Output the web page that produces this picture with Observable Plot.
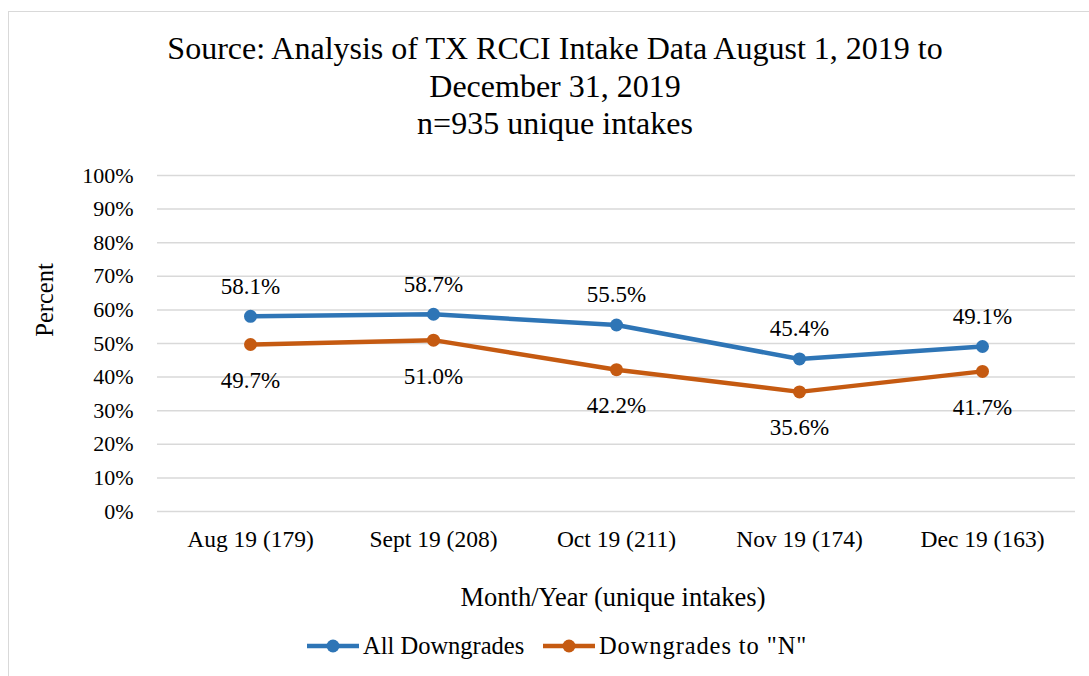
<!DOCTYPE html>
<html>
<head>
<meta charset="utf-8">
<script src="https://cdn.jsdelivr.net/npm/d3@7"></script>
<script src="https://cdn.jsdelivr.net/npm/@observablehq/plot@0.6"></script>
<style>
  html, body { margin: 0; padding: 0; background: #fff; }
  body { width: 1089px; height: 676px; position: relative; overflow: hidden; font-family: "Liberation Serif", "Times New Roman", serif; color: #000; }
  #frame { position: absolute; left: 8px; top: 11px; width: 1200px; height: 800px; border: 1.5px solid #d9d9d9; box-sizing: border-box; }
  #title { position: absolute; left: 0; width: 1110px; top: 30px; text-align: center; font-size: 32px; line-height: 37.5px; }
  #chart { position: absolute; left: 0; top: 150px; }
  #xtitle { position: absolute; left: 0; width: 1226px; top: 582px; text-align: center; font-size: 26.5px; line-height: 30px; }
  #ytitle { position: absolute; left: 45px; top: 300px; font-size: 24.5px; transform: translate(-50%, -50%) rotate(-90deg); white-space: nowrap; }
  #legend { position: absolute; top: 632px; left: 0; width: 1089px; font-size: 24.5px; }
  .item { position: absolute; top: 0; display: flex; align-items: center; white-space: nowrap; }
  .item svg { margin-right: 4px; }
</style>
</head>
<body>
<div id="frame"></div>
<div id="title">Source: Analysis of TX RCCI Intake Data August 1, 2019 to<br>December 31, 2019<br>n=935 unique intakes</div>
<div id="chart"></div>
<div id="xtitle">Month/Year (unique intakes)</div>
<div id="ytitle">Percent</div>
<div id="legend"></div>
<script>
const categories = ["Aug 19 (179)", "Sept 19 (208)", "Oct 19 (211)", "Nov 19 (174)", "Dec 19 (163)"];
const allDowngrades = [58.1, 58.7, 55.5, 45.4, 49.1];
const downgradesToN = [49.7, 51.0, 42.2, 35.6, 41.7];
const yTicks = [0, 10, 20, 30, 40, 50, 60, 70, 80, 90, 100];
const seriesNames = ["All Downgrades", "Downgrades to \"N\""];
const colors = ["#2E75B6", "#C55A11"];

const rowsA = categories.map((c, i) => ({cat: c, v: allDowngrades[i]}));
const rowsN = categories.map((c, i) => ({cat: c, v: downgradesToN[i]}));

const fontFamily = "'Liberation Serif', 'Times New Roman', serif";

const plot = Plot.plot({
  width: 1089,
  height: 461,
  marginTop: 25,
  marginBottom: 100,
  marginLeft: 157,
  marginRight: 14,
  style: { fontFamily, fontSize: "22px", color: "#000", background: "transparent", overflow: "visible" },
  x: { type: "point", domain: categories, padding: 0.5, label: null },
  y: { domain: [0, 100], label: null },
  marks: [
    Plot.gridY(yTicks, { stroke: "#d9d9d9", strokeOpacity: 1, strokeWidth: 1.5 }),
    Plot.axisY(yTicks, { tickSize: 0, tickPadding: 24, tickFormat: d => d + "%", fontSize: 22, label: null }),
    Plot.axisX(categories, { tickSize: 0, tickPadding: 19, fontSize: 23.5, label: null }),
    Plot.line(rowsA, { x: "cat", y: "v", stroke: colors[0], strokeWidth: 4.5 }),
    Plot.line(rowsN, { x: "cat", y: "v", stroke: colors[1], strokeWidth: 4.5 }),
    Plot.dot(rowsA, { x: "cat", y: "v", r: 6.5, fill: colors[0] }),
    Plot.dot(rowsN, { x: "cat", y: "v", r: 6.5, fill: colors[1] }),
    Plot.text(rowsA, { x: "cat", y: "v", text: d => d.v.toFixed(1) + "%", dy: -30, fontSize: 23, fill: "#000" }),
    Plot.text(rowsN, { x: "cat", y: "v", text: d => d.v.toFixed(1) + "%", dy: 36, fontSize: 23, fill: "#000" })
  ]
});
document.getElementById("chart").appendChild(plot);

// legend
const legend = document.getElementById("legend");
const lefts = [307, 543];
const spacing = ["0px", "0.9px"];
seriesNames.forEach((name, i) => {
  const item = document.createElement("div");
  item.className = "item";
  item.style.left = lefts[i] + "px";
  item.innerHTML = `<svg width="52" height="26"><line x1="0" y1="13" x2="52" y2="13" stroke="${colors[i]}" stroke-width="4.5"/><circle cx="26" cy="13" r="6.5" fill="${colors[i]}"/></svg><span style="letter-spacing:${spacing[i]}">${name}</span>`;
  legend.appendChild(item);
});
</script>
</body>
</html>
